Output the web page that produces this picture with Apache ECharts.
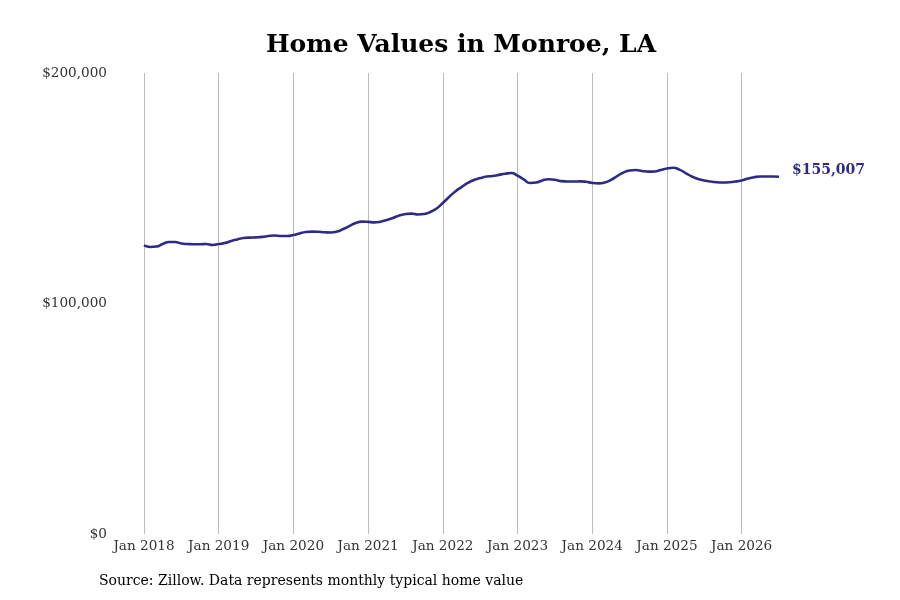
<!DOCTYPE html>
<html style="height:100%;">
<head>
    <meta charset="utf-8">
    <script src="https://cdn.jsdelivr.net/npm/echarts@6/dist/echarts.min.js"></script>
</head>
<body style="height:100%;margin:0;">
    <div id="main" style="width:900px;height:600px;"></div>
</body>
</html>
<script>
    // years shown on the x axis, one label per January
    var years = [2018, 2019, 2020, 2021, 2022, 2023, 2024, 2025, 2026];
    var monthNames = ['Jan','Feb','Mar','Apr','May','Jun','Jul','Aug','Sep','Oct','Nov','Dec'];

    // typical home value (USD), monthly from Jan 2018 to Jul 2026
    var values = [
        125200, 124500, 124700, 125800, 126700, 126700, 126000, 125800, 125700, 125700, 125800, 125400,
        125800, 126200, 127100, 127800, 128400, 128600, 128700, 128900, 129300, 129500, 129300, 129300,
        129700, 130400, 131000, 131200, 131100, 130900, 130800, 131200, 132300, 133600, 134900, 135500,
        135400, 135200, 135500, 136200, 137100, 138200, 138800, 139000, 138600, 138800, 139700, 141200,
        143600, 146200, 148600, 150500, 152300, 153600, 154400, 155100, 155300, 155800, 156300, 156600,
        155500, 153800, 152300, 152500, 153400, 153900, 153700, 153100, 152900, 152900, 153000, 152800,
        152300, 152100, 152500, 153600, 155300, 156800, 157700, 157900, 157500, 157200, 157300, 157900,
        158600, 158900, 158100, 156600, 155100, 154000, 153400, 152900, 152600, 152500, 152600, 152900,
        153400, 154200, 154800, 155100, 155100, 155100, 155007
    ];

    var months = [];
    for (var i = 0; i < values.length; i++) {
        months.push(monthNames[i % 12] + ' ' + years[Math.floor(i / 12)]);
    }

    var serif = "'DejaVu Serif', serif";
    var lineColor = '#2e2b87';

    var myChart = echarts.init(document.getElementById('main'));
    var option = {
        backgroundColor: '#fff',
        animation: false,
        title: {
            text: 'Home Values in Monroe, LA',
            left: 456,
            top: 28,
            textAlign: 'center',
            textStyle: {
                fontFamily: serif,
                fontSize: 25,
                fontWeight: 'bold',
                color: '#000'
            }
        },
        grid: {
            left: 144,
            right: 121,
            top: 73,
            bottom: 66
        },
        xAxis: {
            type: 'category',
            data: months,
            boundaryGap: false,
            axisLine: {show: false},
            axisTick: {show: false},
            axisLabel: {
                interval: 11,
                margin: 5,
                fontFamily: serif,
                fontSize: 13.6,
                color: '#333'
            },
            splitLine: {
                show: true,
                interval: 11,
                lineStyle: {color: '#bbb', width: 1}
            }
        },
        yAxis: {
            type: 'value',
            min: 0,
            max: 200000,
            interval: 100000,
            axisLine: {show: false},
            axisTick: {show: false},
            splitLine: {show: false},
            axisLabel: {
                margin: 37,
                fontFamily: serif,
                fontSize: 13.6,
                color: '#333',
                formatter: function (v) { return '$' + v.toLocaleString('en-US'); }
            }
        },
        series: [
            {
                type: 'line',
                data: values,
                smooth: true,
                symbol: 'none',
                lineStyle: {color: lineColor, width: 2.6},
                endLabel: {
                    show: true,
                    distance: 13,
                    offset: [0, -6],
                    fontFamily: serif,
                    fontSize: 14,
                    fontWeight: 'bold',
                    color: lineColor,
                    formatter: function (p) { return '$' + p.value.toLocaleString('en-US'); }
                }
            }
        ],
        graphic: [
            {
                type: 'text',
                left: 99,
                top: 574,
                style: {
                    text: 'Source: Zillow. Data represents monthly typical home value',
                    fontFamily: serif,
                    fontSize: 14,
                    fill: '#000'
                }
            }
        ]
    };

    myChart.setOption(option);
</script>
